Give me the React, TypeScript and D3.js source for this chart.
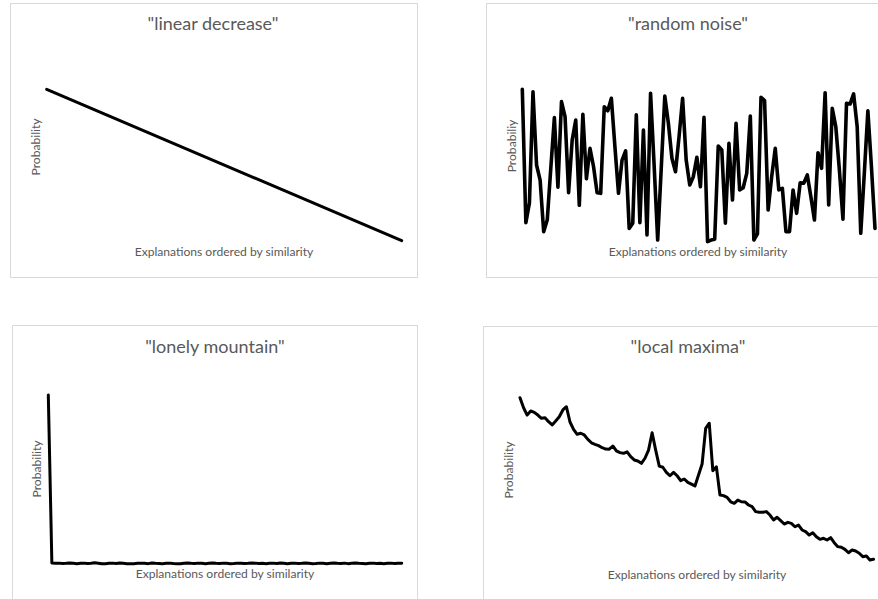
import React from 'react';
import * as d3 from 'd3';

const titles = ['"linear decrease"', '"random noise"', '"lonely mountain"', '"local maxima"'];
const xAxisLabel = 'Explanations ordered by similarity';
const yAxisLabels = ['Probability', 'Probabiliy', 'Probability', 'Probability'];

const linearDecrease = [100, 0];

const randomNoise = [
  97.3, 13.9, 26.3, 95.8, 50, 40.6, 8.3, 15.6, 48.1, 79.6,
  36.1, 89.6, 80.2, 32.7, 65.6, 78.1, 24.8, 81.7, 41.4, 60.4,
  48.9, 32.7, 32.3, 86.4, 83.9, 91.7, 61.4, 32.3, 53.1, 58.8,
  10.4, 13.6, 81.3, 13.9, 71.9, 6.3, 94.8, 50, 3.1, 48.1,
  93.1, 76.1, 54.2, 45.8, 67.7, 91.7, 53.1, 37.5, 42.7, 54.8,
  36.4, 79.8, 2.1, 3.1, 3.6, 61.9, 59.4, 13.6, 63.6, 28.1,
  76.1, 34.4, 35.8, 44.8, 80.6, 3.1, 6.9, 92.3, 90.2, 21.9,
  42.7, 60.4, 34.4, 35.4, 8.3, 8.3, 34.4, 19.8, 38.9, 38.6,
  43.8, 30.2, 15.6, 57.7, 47.9, 95.2, 25, 85.4, 73.9, 46.9,
  16.1, 88.6, 88.1, 94.4, 73.9, 7.3, 44.8, 83.9, 48.9, 10.4,
];

const lonelyMountain = [
  100, 1.2, 1.0, 1.1, 0.9, 1.0, 1.2, 1.0, 0.8, 1.0,
  1.1, 0.9, 1.0, 1.3, 1.0, 0.7, 0.8, 1.0, 1.1, 0.9,
  1.2, 1.0, 0.8, 0.7, 0.8, 1.0, 1.1, 1.0, 0.8, 1.2,
  1.0, 0.9, 0.8, 1.0, 1.1, 0.9, 0.8, 0.7, 1.0, 1.2,
  1.0, 0.9, 1.1, 1.0, 0.8, 1.0, 1.2, 1.0, 0.9, 1.1,
  1.0, 0.8, 0.9, 1.1, 1.0, 0.9, 1.0, 1.2, 1.1, 0.9,
  1.0, 0.8, 1.0, 1.1, 0.9, 1.2, 1.0, 0.8, 1.0, 1.1,
  0.9, 1.0, 1.2, 1.0, 0.8, 0.9, 1.1, 1.0, 0.8, 1.0,
  1.2, 1.0, 0.9, 1.1, 0.8, 1.0, 1.2, 1.0, 0.9, 0.8,
  1.0, 1.1, 0.9, 1.0, 0.8, 1.0, 1.1, 0.9, 1.0, 1.1,
];

const localMaxima = [
  98.4, 92.5, 88.2, 90.6, 89.8, 88.2, 86.3, 86.6, 84.3, 82.4,
  84.7, 87.2, 91.2, 93.1, 84.1, 79.8, 76.9, 77.5, 76.5, 73.9,
  71.9, 71.0, 70.2, 69.0, 68.2, 68.1, 70.0, 67.1, 66.1, 65.7,
  66.6, 63.7, 61.8, 61.2, 59.8, 62.8, 67.6, 77.8, 67.6, 58.2,
  57.5, 54.5, 52.5, 54.5, 52.5, 49.6, 50.6, 48.6, 47.6, 46.5,
  52.9, 59.4, 80.4, 83.4, 55.5, 57.8, 41.2, 40.8, 39.8, 37.2,
  36.3, 38.2, 37.2, 37.1, 35.3, 34.3, 31.4, 31.0, 31.0, 31.4,
  29.4, 26.5, 28.1, 26.1, 24.1, 25.1, 24.5, 22.5, 23.5, 20.6,
  19.6, 17.6, 19.0, 16.6, 15.1, 15.7, 14.7, 16.1, 13.1, 10.8,
  10.4, 9.2, 7.2, 8.8, 8.2, 6.9, 4.9, 5.3, 2.9, 3.4,
];

const seriesList = [linearDecrease, randomNoise, lonelyMountain, localMaxima];

type Layout = {
  box: [number, number, number, number];
  plotX: [number, number];
  plotY: [number, number];
  title: [number, number];
  xLabel: [number, number];
  yLabel: [number, number];
  stroke: number;
};

const layouts: Layout[] = [
  { box: [10, 3, 407, 274], plotX: [46.7, 401.7], plotY: [240.7, 89.3], title: [213, 30], xLabel: [224, 256], yLabel: [40, 147], stroke: 3 },
  { box: [486, 3, 420, 274], plotX: [522.3, 875], plotY: [245, 85], title: [688, 30], xLabel: [698, 256], yLabel: [516, 146], stroke: 3.6 },
  { box: [12, 325, 405, 300], plotX: [48.3, 401.7], plotY: [565, 395], title: [215, 353], xLabel: [225, 578], yLabel: [41, 469], stroke: 3 },
  { box: [483, 326, 420, 300], plotX: [520, 873.5], plotY: [565, 395], title: [688, 353], xLabel: [697, 579], yLabel: [513, 470], stroke: 3 },
];

const FONT = 'Lato, "Open Sans", sans-serif';
const TEXT = '#595959';

function Panel({ values, layout, title, yLabel }: { values: number[]; layout: Layout; title: string; yLabel: string }) {
  const x = d3.scaleLinear().domain([0, values.length - 1]).range(layout.plotX);
  const y = d3.scaleLinear().domain([0, 100]).range(layout.plotY);
  const line = d3
    .line<number>()
    .x((_, i) => x(i))
    .y((d) => y(d));
  const [bx, by, bw, bh] = layout.box;
  return (
    <g>
      <rect x={bx + 0.5} y={by + 0.5} width={bw} height={bh} fill="#fff" stroke="#d9d9d9" strokeWidth={1} />
      <text x={layout.title[0]} y={layout.title[1]} textAnchor="middle" fontFamily={FONT} fontSize={18} fill={TEXT}>
        {title}
      </text>
      <text x={layout.xLabel[0]} y={layout.xLabel[1]} textAnchor="middle" fontFamily={FONT} fontSize={12.1} fill={TEXT}>
        {xAxisLabel}
      </text>
      <text
        transform={`translate(${layout.yLabel[0]},${layout.yLabel[1]}) rotate(-90)`}
        textAnchor="middle"
        fontFamily={FONT}
        fontSize={12.1}
        fill={TEXT}
      >
        {yLabel}
      </text>
      <path
        d={line(values) ?? ''}
        fill="none"
        stroke="#000"
        strokeWidth={layout.stroke}
        strokeLinejoin="round"
        strokeLinecap="round"
      />
    </g>
  );
}

export default function App() {
  return (
    <svg
      width={878}
      height={599}
      viewBox="0 0 878 599"
      style={{ position: 'absolute', left: 0, top: 0, display: 'block', background: '#fff' }}
    >
      <rect x={0} y={0} width={878} height={599} fill="#fff" />
      {seriesList.map((values, i) => (
        <Panel key={i} values={values} layout={layouts[i]} title={titles[i]} yLabel={yAxisLabels[i]} />
      ))}
    </svg>
  );
}
